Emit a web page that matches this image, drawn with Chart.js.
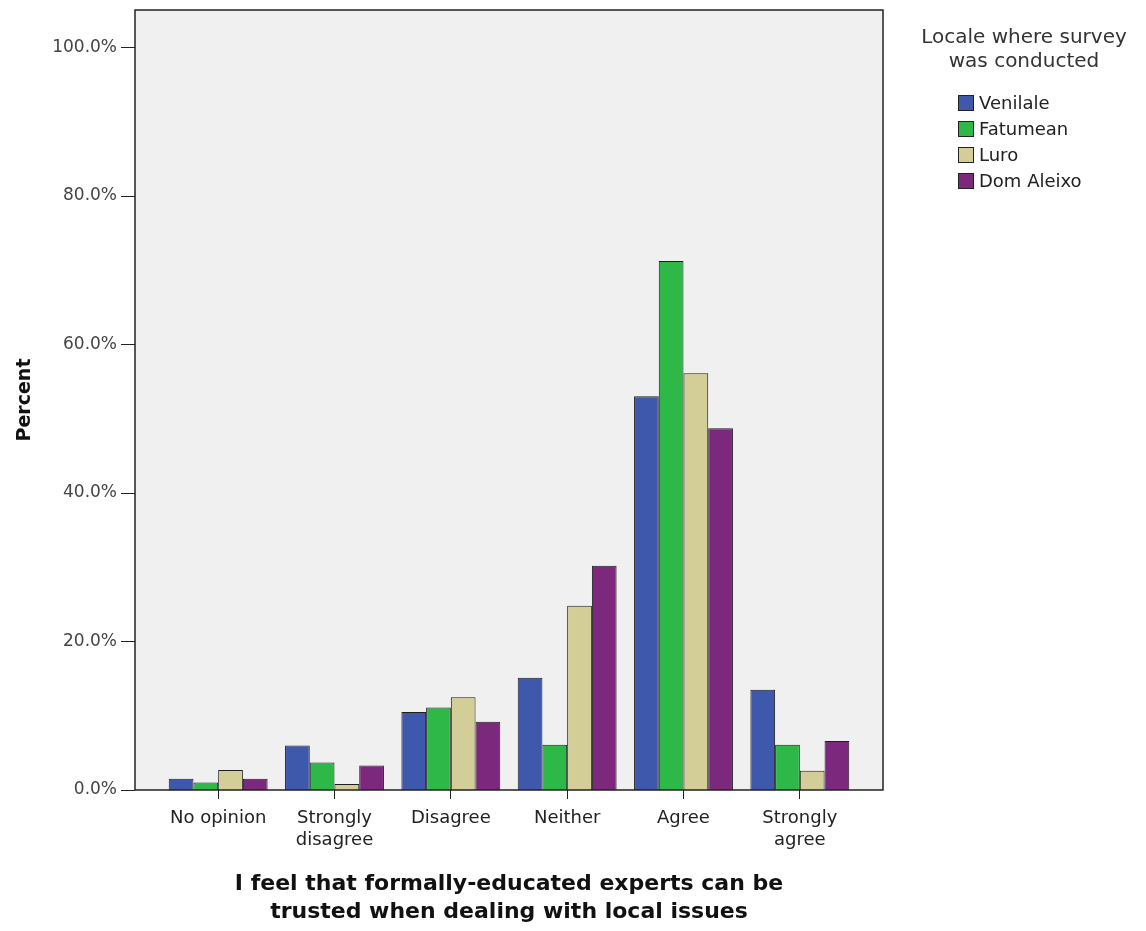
<!DOCTYPE html>
<html>
<head>
<meta charset="utf-8">
<script src="https://cdn.jsdelivr.net/npm/chart.js@4.4.1/dist/chart.umd.min.js"></script>
<style>
  html, body { margin: 0; padding: 0; background: #fff; }
  #wrap { width: 1146px; height: 931px; position: relative; }
</style>
</head>
<body>
<div id="wrap"><canvas id="myChart" width="1146" height="931"></canvas></div>
<script>
// categories and series (percent)
const categories = ['No opinion', ['Strongly', 'disagree'], 'Disagree', 'Neither', 'Agree', ['Strongly', 'agree']]
const venilale = [1.5, 6.0, 10.5, 15.1, 53.0, 13.5]
const fatumean = [1.0, 3.7, 11.1, 6.1, 71.2, 6.1]
const luro = [2.7, 0.8, 12.5, 24.8, 56.1, 2.6]
const domAleixo = [1.5, 3.3, 9.2, 30.2, 48.7, 6.6]
const seriesNames = ['Venilale', 'Fatumean', 'Luro', 'Dom Aleixo']
const yTicks = [0, 20, 40, 60, 80, 100]

const colors = ['#3E58AC', '#2EB848', '#D3CE97', '#7C287D']
const FONT = "'DejaVu Sans', Verdana, sans-serif"

/**
 * fond gris du graphique + cadre + petits traits de l'axe y
 */
const frame = {
    id: 'frame',
    beforeDraw(chart) {
        const { ctx, chartArea } = chart
        const x0 = chartArea.left - 25, x1 = chartArea.right + 25
        ctx.save()
        ctx.fillStyle = '#f0f0f0'
        ctx.fillRect(x0, chartArea.top, x1 - x0, chartArea.bottom - chartArea.top)
        ctx.restore()
    },
    afterDraw(chart) {
        const { ctx, chartArea } = chart
        const x0 = chartArea.left - 25, x1 = chartArea.right + 25
        const y = chart.scales.y
        ctx.save()
        ctx.strokeStyle = '#222'
        ctx.lineWidth = 1.5
        ctx.strokeRect(x0, chartArea.top, x1 - x0, chartArea.bottom - chartArea.top)
        ctx.lineWidth = 1
        yTicks.forEach(v => {
            const py = Math.round(y.getPixelForValue(v)) + 0.5
            ctx.beginPath()
            ctx.moveTo(x0 - 14, py)
            ctx.lineTo(x0, py)
            ctx.stroke()
        })
        ctx.restore()
    }
}

/**
 * légende à droite, titre sur deux lignes
 */
const sideLegend = {
    id: 'sideLegend',
    afterDraw(chart) {
        const { ctx } = chart
        ctx.save()
        ctx.fillStyle = '#333'
        ctx.font = '20px ' + FONT
        ctx.textAlign = 'center'
        ctx.textBaseline = 'middle'
        ctx.fillText('Locale where survey', 1024, 38)
        ctx.fillText('was conducted', 1024, 62)
        ctx.font = '18px ' + FONT
        ctx.textAlign = 'left'
        chart.data.datasets.forEach((ds, i) => {
            const cy = 103 + i * 26
            ctx.fillStyle = ds.backgroundColor
            ctx.fillRect(958, cy - 8, 15, 16)
            ctx.strokeStyle = '#222'
            ctx.lineWidth = 1
            ctx.strokeRect(958.5, cy - 7.5, 15, 15)
            ctx.fillStyle = '#222'
            ctx.fillText(ds.label, 979, cy + 1)
        })
        ctx.restore()
    }
}

const ctx = document.getElementById('myChart')
const allSeries = [venilale, fatumean, luro, domAleixo]

new Chart(ctx, {
    type: 'bar',
    data: {
        labels: categories,
        datasets: allSeries.map((d, i) => ({
            label: seriesNames[i],
            data: d,
            backgroundColor: colors[i],
            borderColor: '#1e1e1e',
            borderWidth: 1,
            categoryPercentage: 0.85,
            barPercentage: 1.0,
        })),
    },
    options: {
        responsive: false,
        animation: false,
        layout: { padding: { top: 10, right: 288, bottom: 0, left: 0 } },
        scales: {
            x: {
                grid: { display: true, drawOnChartArea: false, offset: false, tickLength: 9, color: '#222' },
                border: { display: false },
                ticks: { color: '#222', font: { family: FONT, size: 18 }, padding: 9, maxRotation: 0, autoSkip: false },
                title: {
                    display: true,
                    text: ['I feel that formally-educated experts can be', 'trusted when dealing with local issues'],
                    color: '#111',
                    font: { family: FONT, size: 22, weight: 'bold', lineHeight: 1.25 },
                    padding: { top: 0, bottom: 5 },
                },
                afterFit(scale) { scale.height = 141 },
            },
            y: {
                min: 0,
                max: 105,
                grid: { display: false },
                border: { display: false },
                ticks: {
                    stepSize: 20,
                    includeBounds: false,
                    color: '#444',
                    font: { family: FONT, size: 17 },
                    padding: 35,
                    callback: v => v.toFixed(1) + '%',
                },
                title: {
                    display: true,
                    text: 'Percent',
                    color: '#111',
                    font: { family: FONT, size: 19, weight: 'bold' },
                    padding: { top: 14, bottom: 0 },
                },
                afterFit(scale) {
                    scale.width = 160
                    scale.paddingTop = 0
                    scale.paddingBottom = 0
                },
            }
        },
        plugins: {
            legend: { display: false },
            tooltip: { enabled: false },
        },
    },
    plugins: [frame, sideLegend]
})
</script>
</body>
</html>
